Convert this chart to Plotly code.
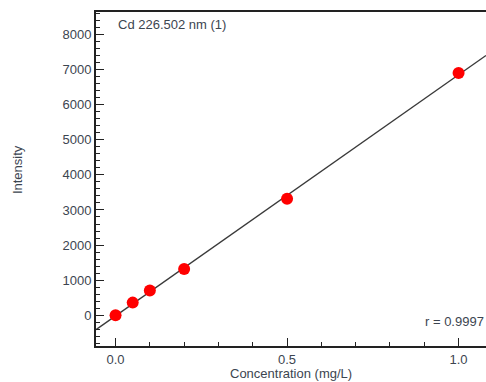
import numpy as np
import plotly.graph_objects as go

conc = [0.0, 0.05, 0.1, 0.2, 0.5, 1.0]
intensity = [0, 360, 702, 1320, 3318, 6904]
title_text = "Cd 226.502 nm (1)"
r_text = "r = 0.9997"
x_title = "Concentration (mg/L)"
y_title = "Intensity"

x_range = [-0.057, 1.08]
y_range = [-876, 8640]

slope, intercept = np.polyfit(conc, intensity, 1)
fit_x = np.array(x_range)
fit_y = slope * fit_x + intercept

font = dict(family="Liberation Sans, Arial, sans-serif", size=13, color="#3c4550")

fig = go.Figure()
fig.add_trace(go.Scatter(x=fit_x, y=fit_y, mode="lines",
                         line=dict(color="#3a3a3a", width=1.4), hoverinfo="skip"))
fig.add_trace(go.Scatter(x=conc, y=intensity, mode="markers",
                         marker=dict(color="#ff0000", size=12, line=dict(width=0))))

fig.update_layout(
    width=486, height=382,
    margin=dict(l=96, r=0, t=12, b=36),
    paper_bgcolor="white", plot_bgcolor="white",
    showlegend=False,
    font=font,
    xaxis=dict(range=x_range, tickvals=[0.0, 0.5, 1.0], ticktext=["0.0", "0.5", "1.0"],
               ticks="inside", ticklen=8, tickwidth=1.3, tickcolor="#222",
               showline=True, linecolor="#222", linewidth=2, mirror=True,
               showgrid=False, zeroline=False,
               minor=dict(dtick=0.1, tick0=0, ticks="inside", ticklen=4, tickcolor="#222", tickwidth=1.3, showgrid=False),
               tickfont=font),
    yaxis=dict(range=y_range, dtick=1000, tick0=0,
               ticks="inside", ticklen=8, tickwidth=1.3, tickcolor="#222",
               showline=True, linecolor="#222", linewidth=2, mirror=False,
               showgrid=False, zeroline=False,
               minor=dict(dtick=200, tick0=0, ticks="inside", ticklen=4, tickcolor="#222", tickwidth=1.3, showgrid=False),
               tickfont=font, ticklabelstandoff=0),
)

fig.add_annotation(text=title_text, xref="paper", yref="paper", x=0.05, y=0.99,
                   xanchor="left", yanchor="top", showarrow=False, font=font)
fig.add_annotation(text=r_text, xref="paper", yref="paper", x=1.0, y=0.045,
                   xanchor="right", yanchor="bottom", showarrow=False, font=font)
fig.add_annotation(text=x_title, xref="paper", yref="paper", x=0.5, y=-0.057,
                   xanchor="center", yanchor="top", showarrow=False, font=font, borderpad=0)
fig.add_annotation(text=y_title, xref="paper", yref="paper", x=-0.224, y=0.527,
                   xanchor="left", yanchor="middle", textangle=-90, showarrow=False, font=font)

fig.write_html("out.html")
